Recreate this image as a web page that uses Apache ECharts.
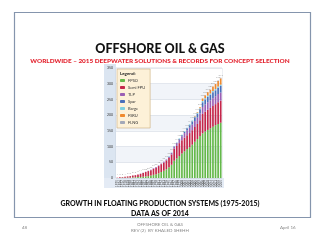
<!DOCTYPE html>
<html>
<head>
<meta charset="utf-8">
<script src="https://cdn.jsdelivr.net/npm/echarts@6/dist/echarts.min.js"></script>
<style>
  html, body { margin: 0; padding: 0; background: #fff; }
  #chart { width: 320px; height: 240px; }
</style>
</head>
<body>
<div id="chart"></div>
<script>
// years 1975 - 2015
var years = ['1975','1976','1977','1978','1979','1980','1981','1982','1983','1984',
    '1985','1986','1987','1988','1989','1990','1991','1992','1993','1994',
    '1995','1996','1997','1998','1999','2000','2001','2002','2003','2004',
    '2005','2006','2007','2008','2009','2010','2011','2012','2013','2014','2015'];

var fpso = [0,0,1,1,1, 1,2,2,3,3, 4,5,6,8,10, 12,15,19,23,28, 34,42,55,62,70,
    78,85,92,98,106, 115,124,134,142,148, 153,158,163,168,172, 176];
var semiFpu = [1,2,2,3,4, 5,6,7,8,10, 12,14,16,17,19, 21,23,25,26,28, 30,33,38,40,41,
    42,43,44,45,46, 47,48,50,62,63, 64,65,66,67,69, 70];
var tlp = [0,0,0,0,0, 0,0,0,0,1, 1,1,1,1,2, 2,2,2,3,3, 4,5,7,9,11,
    13,15,16,17,18, 19,20,21,22,23, 24,24,25,25,26, 26];
var spar = [0,0,0,0,0, 0,0,0,0,0, 0,0,0,0,0, 0,0,0,0,0, 0,0,1,1,2,
    3,4,6,8,10, 12,13,14,15,16, 17,18,19,19,20, 21];
var barge = [0,0,0,0,0, 0,0,0,0,0, 0,0,0,0,0, 0,0,0,0,0, 1,1,1,1,2,
    2,2,2,3,3, 3,3,3,4,4, 4,4,4,4,4, 4];
var fsru = [0,0,0,0,0, 0,0,0,0,0, 0,0,0,0,0, 0,0,0,0,0, 0,0,0,0,0,
    0,0,0,0,0, 1,2,3,8,9, 11,12,14,16,18, 20];
var flng = [0,0,0,0,0, 0,0,0,0,0, 0,0,0,0,0, 0,0,0,0,0, 0,0,0,0,0,
    0,0,0,0,0, 0,0,0,0,0, 0,0,0,0,1, 2];

var seriesNames = ['FPSO', 'Semi FPU', 'TLP', 'Spar', 'Barge', 'FSRU', 'FLNG'];
var seriesColors = ['#64b84a', '#c4264a', '#9b5fb4', '#4a6fba', '#7fd0e0', '#ef8a2e', '#a3a8b8'];
var seriesData = [fpso, semiFpu, tlp, spar, barge, fsru, flng];

var yTicks = [0, 50, 100, 150, 200, 250, 300, 350];

var totals = years.map(function (y, i) {
    var s = 0;
    for (var k = 0; k < seriesData.length; k++) s += seriesData[k][i];
    return s;
});

var font = 'Lato, "Open Sans", sans-serif';
var myChart = echarts.init(document.getElementById('chart'), null, {renderer: 'canvas'});

var series = seriesData.map(function (d, k) {
    return {
        name: seriesNames[k],
        type: 'bar',
        stack: 'fps',
        barCategoryGap: '35%',
        itemStyle: {color: seriesColors[k]},
        data: d
    };
});
// tiny total labels over the bars
series.push({
    name: 'total',
    type: 'scatter',
    symbolSize: 1,
    itemStyle: {color: 'rgba(0,0,0,0)'},
    label: {show: true, position: 'top', distance: 1, fontSize: 2.5, color: '#8a8a8a', fontFamily: font},
    data: totals,
    z: 5
});

option = {
    backgroundColor: '#ffffff',
    animation: false,
    title: [{
        text: 'OFFSHORE OIL & GAS',
        left: 'center',
        top: 37,
        textStyle: {fontFamily: font, fontWeight: 900, fontSize: 12.5, color: '#111'}
    }, {
        text: 'WORLDWIDE – 2015 DEEPWATER SOLUTIONS & RECORDS FOR CONCEPT SELECTION',
        left: 'center',
        top: 53,
        textStyle: {fontFamily: font, fontWeight: 900, fontSize: 6.4, color: '#e3222e'}
    }, {
        text: 'GROWTH IN FLOATING PRODUCTION SYSTEMS (1975-2015)',
        left: 'center',
        top: 195,
        textStyle: {fontFamily: font, fontWeight: 900, fontSize: 7, color: '#111'}
    }, {
        text: 'DATA AS OF 2014',
        left: 'center',
        top: 205,
        textStyle: {fontFamily: font, fontWeight: 900, fontSize: 7, color: '#111'}
    }],
    graphic: [{
        type: 'rect',
        shape: {x: 14.5, y: 12.5, width: 296, height: 205},
        style: {fill: 'none', stroke: '#8595ad', lineWidth: 1.2},
        z: -1
    }, {
        type: 'rect',
        shape: {x: 104, y: 64, width: 12, height: 124},
        style: {fill: '#dbe5f1'},
        z: -1
    }, {
        type: 'rect',
        shape: {x: 104, y: 178, width: 120, height: 10},
        style: {fill: '#e4ebf5'},
        z: -1
    }, {
        type: 'text',
        left: 120,
        top: 71,
        style: {text: 'Legend:', fontFamily: font, fontWeight: 'bold', fontSize: 4.5, fill: '#222'},
        z: 10
    }, {
        type: 'text',
        left: 22,
        top: 225,
        style: {text: '48', fontFamily: font, fontSize: 4.5, fill: '#8a8a8a'}
    }, {
        type: 'text',
        left: 'center',
        top: 222,
        style: {text: 'OFFSHORE OIL & GAS\nREV (2)  BY KHALED SHEHH', textAlign: 'center', fontFamily: font, fontSize: 4.5, lineHeight: 6, fill: '#8a8a8a'}
    }, {
        type: 'text',
        left: 280,
        top: 225,
        style: {text: 'April 16', fontFamily: font, fontSize: 4.5, fill: '#8a8a8a'}
    }],
    legend: {
        data: seriesNames,
        orient: 'vertical',
        left: 117,
        top: 69,
        padding: [9, 5, 3, 3],
        backgroundColor: '#fdf1d8',
        borderColor: '#c9ad7c',
        borderWidth: 0.6,
        itemWidth: 5,
        itemHeight: 3,
        itemGap: 2,
        textStyle: {fontFamily: font, fontSize: 4, lineHeight: 5, color: '#333', padding: [0, 0, 0, -2]}
    },
    grid: {
        left: 116,
        right: 98,
        top: 68,
        bottom: 62,
        show: true,
        borderColor: '#c3cad6',
        borderWidth: 0.6,
        backgroundColor: '#ffffff'
    },
    xAxis: {
        type: 'category',
        data: years,
        axisLine: {show: false},
        axisTick: {show: false},
        axisLabel: {rotate: 90, fontSize: 3, color: '#444', margin: 2, fontFamily: font, interval: 0}
    },
    yAxis: {
        type: 'value',
        min: yTicks[0],
        max: yTicks[yTicks.length - 1],
        interval: 50,
        axisLine: {show: false},
        axisTick: {show: false},
        splitLine: {lineStyle: {color: '#c8d0dc', width: 0.5}},
        splitArea: {show: true, areaStyle: {color: ['#ffffff', '#f1f4f9']}},
        axisLabel: {fontSize: 3.5, color: '#333', margin: 3, fontFamily: font}
    },
    series: series
};
myChart.setOption(option);
</script>
</body>
</html>
